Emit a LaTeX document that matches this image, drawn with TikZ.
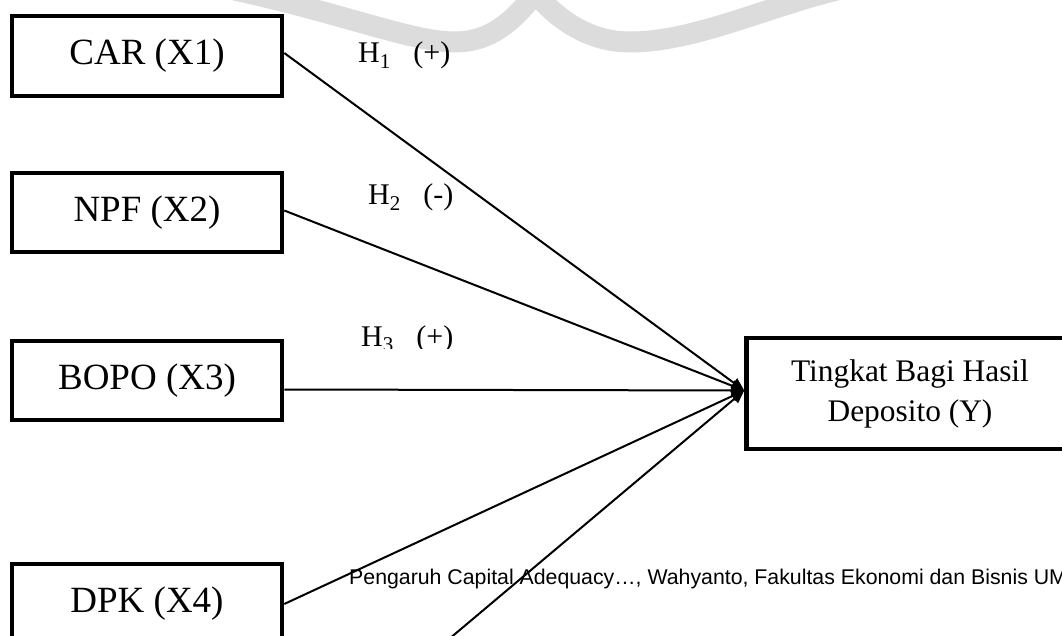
\documentclass[tikz,border=0pt]{standalone}
\usepackage{fontspec}
\setmainfont{Liberation Serif}
\newfontfamily\footfont{Liberation Sans}
\usetikzlibrary{arrows.meta}
\definecolor{wmgray}{RGB}{220,220,220}
\begin{document}
\begin{tikzpicture}[x=1pt,y=-1pt,
  varbox/.style={draw, line width=4.5pt, minimum width=270pt, minimum height=80pt, inner sep=0pt, fill=white, font=\fontsize{37}{44}\selectfont},
  tgtbox/.style={draw, line width=4.5pt, minimum width=327pt, minimum height=111pt, inner sep=0pt, fill=white, align=center, font=\fontsize{31.4}{40}\selectfont},
  link/.style={line width=2pt, -{Triangle[length=13pt,width=11pt]}},
  hyp/.style={anchor=base west, inner sep=0pt, font=\fontsize{30}{36}\selectfont},
  wm/.style={draw=wmgray, line width=21pt}]
\useasboundingbox (0,0) rectangle (1062,636);
\clip (0,0) rectangle (1062,636);
% watermark
\draw[wm] (225,-12) .. controls (340,12) and (410,42) .. (455,42) .. controls (495,42) and (520,15) .. (545,-20);
\draw[wm] (525,-20) .. controls (550,15) and (585,42) .. (630,42) .. controls (700,42) and (780,0) .. (860,-15);
% nodes
\node[varbox] (car) at (147,56) {CAR (X1)};
\node[varbox, minimum height=79pt] (npf) at (147,212.5) {NPF (X2)};
\node[varbox, minimum height=79pt] (bopo) at (147,380.5) {BOPO (X3)};
\node[varbox] (dpk) at (147,604) {DPK (X4)};
\node[tgtbox] (tgt) at (910,393.5) {Tingkat Bagi Hasil\\Deposito (Y)};
\coordinate (x5) at (436,650);
% connectors
\draw[link] ([yshift=3pt]car.east) -- ([yshift=3pt]tgt.west);
\draw[link] ([yshift=2pt]npf.east) -- ([yshift=3pt]tgt.west);
\draw[link] ([yshift=-9pt]bopo.east) -- ([yshift=3pt]tgt.west);
\draw[link] (dpk.east) -- ([yshift=3pt]tgt.west);
\draw[link] (x5) -- ([yshift=3pt]tgt.west);
% hypothesis labels
\node[hyp] (h1) at (358,63) {H\textsubscript{1}\hspace{0.75em}(+)};
\node[hyp] (h2) at (368,205) {H\textsubscript{2}\hspace{0.75em}(-)};
\begin{scope}
\clip (300,300) rectangle (520,348);
\node[hyp] (h3) at (361,346) {H\textsubscript{3}\hspace{0.75em}(+)};
\end{scope}
% footer
\node[anchor=base west, inner sep=0pt, font=\footfont\fontsize{21.3}{26}\selectfont] (foot) at (349,584) {Pengaruh Capital Adequacy…, Wahyanto, Fakultas Ekonomi dan Bisnis UM};
\end{tikzpicture}
\end{document}
